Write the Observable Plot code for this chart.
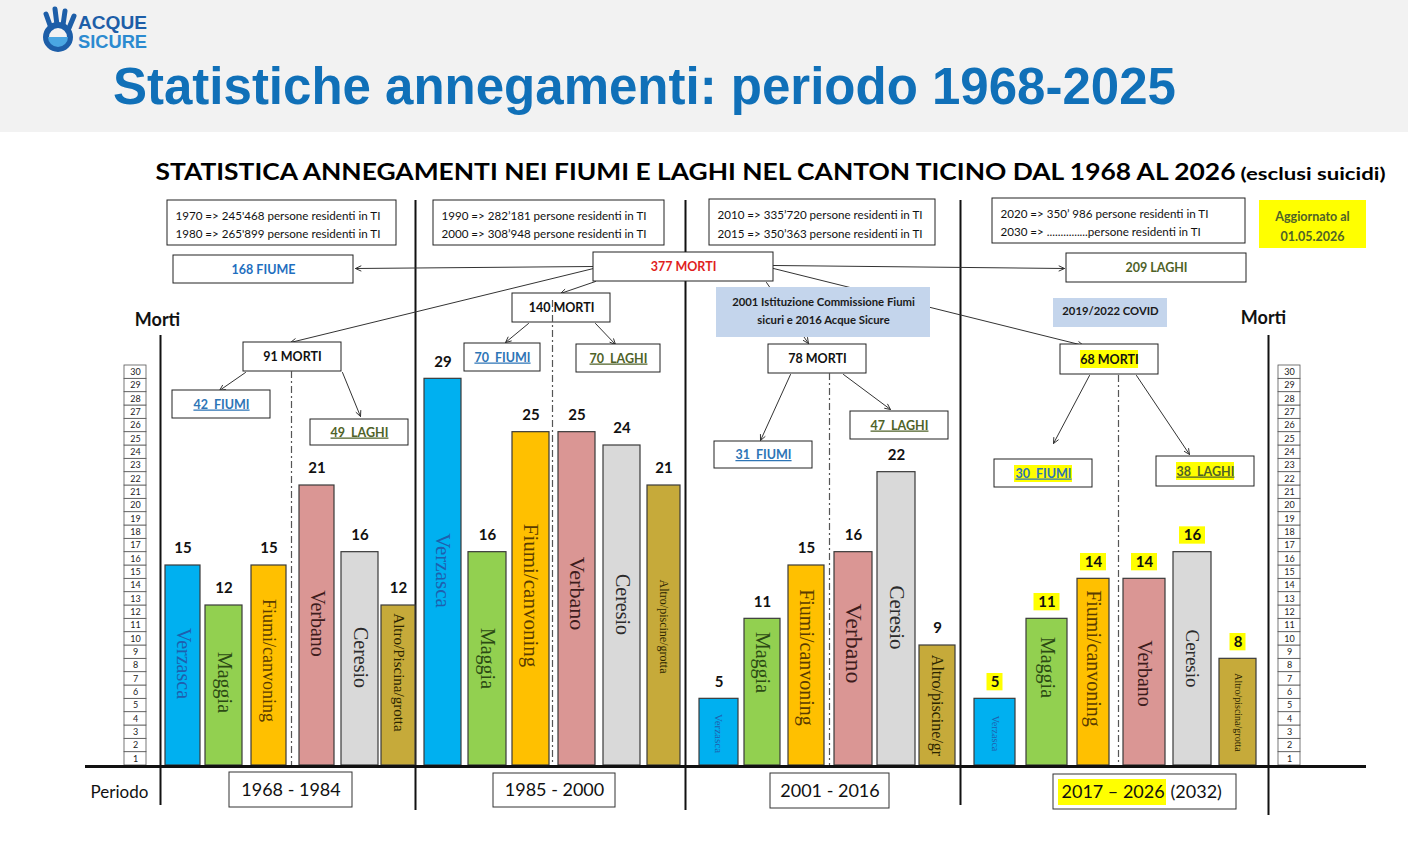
<!DOCTYPE html>
<html><head><meta charset="utf-8">
<script src="https://cdn.jsdelivr.net/npm/d3@7"></script>
<script src="https://cdn.jsdelivr.net/npm/@observablehq/plot@0.6"></script>
<style>
body{margin:0;background:#fff;width:1408px;height:858px;overflow:hidden;font-family:"Liberation Sans",Arial,sans-serif}
#header{position:relative;height:132px;background:#f2f2f2}
#logo{position:absolute;left:38px;top:6px}
#title{position:absolute;left:113px;top:61px;font:bold 51px/51px "Liberation Sans",Arial,sans-serif;color:#1070b8;white-space:nowrap}
#chart svg{display:block}
</style></head>
<body>
<div id="header">
  <svg id="logo" width="120" height="48" viewBox="0 0 120 48">
    <circle cx="20" cy="31" r="12" fill="none" stroke="#1d5ea8" stroke-width="6"/>
    <path d="M10 31 a10 10 0 0 0 20 0 z" fill="#4aa6e2"/>
    <path d="M13 22 L8 8" stroke="#1d5ea8" stroke-width="5" stroke-linecap="round"/>
    <path d="M19 19 L17 3" stroke="#1d5ea8" stroke-width="5" stroke-linecap="round"/>
    <path d="M25 19 L27 5" stroke="#1d5ea8" stroke-width="5" stroke-linecap="round"/>
    <path d="M31 22 L36 10" stroke="#1d5ea8" stroke-width="5" stroke-linecap="round"/>
    <text x="40" y="23" font-family="Liberation Sans" font-weight="bold" font-size="19" fill="#1d5ea8" textLength="69" lengthAdjust="spacingAndGlyphs">ACQUE</text>
    <text x="40" y="42" font-family="Liberation Sans" font-weight="bold" font-size="19" fill="#2b8ad0" textLength="69" lengthAdjust="spacingAndGlyphs">SICURE</text>
  </svg>
  <div id="title">Statistiche annegamenti: periodo 1968-2025</div>
</div>
<div id="chart"></div>
<script>
// ---------------- DATA ----------------
const periods = ["1968 - 1984", "1985 - 2000", "2001 - 2016", "2017 – 2026"];
const categories = ["Verzasca", "Maggia", "Fiumi/canvoning", "Verbano", "Ceresio", "Altro"];
const deaths1968 = [15, 12, 15, 21, 16, 12];
const deaths1985 = [29, 16, 25, 25, 24, 21];
const deaths2001 = [5, 11, 15, 16, 22, 9];
const deaths2017 = [5, 11, 14, 14, 16, 8];
const barLabels = [
  ["Verzasca", "Maggia", "Fiumi/canvoning", "Verbano", "Ceresio", "Altro/Piscina/grotta"],
  ["Verzasca", "Maggia", "Fiumi/canvoning", "Verbano", "Ceresio", "Altro/piscine/grotta"],
  ["Verzasca", "Maggia", "Fiumi/canvoning", "Verbano", "Ceresio", "Altro/piscine/gr"],
  ["Verzasca", "Maggia", "Fiumi/canvoning", "Verbano", "Ceresio", "Altro/piscina/grotta"]
];
const scaleTicks = [1,2,3,4,5,6,7,8,9,10,11,12,13,14,15,16,17,18,19,20,21,22,23,24,25,26,27,28,29,30];
const population = [
  "1970 => 245'468 persone residenti in TI\n1980 => 265'899 persone residenti in TI",
  "1990 => 282’181 persone residenti in TI\n2000 => 308’948 persone residenti in TI",
  "2010 => 335’720 persone residenti in TI\n2015 => 350’363 persone residenti in TI",
  "2020 => 350’ 986 persone residenti in TI\n2030 => ...............persone residenti in TI"
];
const totals = {all: "377 MORTI", fiume: "168 FIUME", laghi: "209 LAGHI"};
const groupTotals = ["91 MORTI", "140 MORTI", "78 MORTI", "68 MORTI"];
const groupFiumi = ["42  FIUMI", "70  FIUMI", "31  FIUMI", "30  FIUMI"];
const groupLaghi = ["49  LAGHI", "70  LAGHI", "47  LAGHI", "38  LAGHI"];

// ---------------- LAYOUT / STYLE ----------------
const catFill = ["#00b0f0", "#92d050", "#ffc000", "#da9694", "#d9d9d9", "#c6aa3a"];
const catText = ["#1f5fae", "#2c4a14", "#5a3c00", "#3d1c1c", "#2b2b2b", "#2a2400"];
const L = {
  barLeft: [[165,205,251,299,341,381],[424,468,512,558,603,647],[699,744,788,834,877,919],[974,1026,1077,1123,1173,1219]],
  barWidth: [[35,37,35,35,37,34],[37,38,37,37,37,33],[39,36,36,38,38,36],[41,41,32,42,38,37]],
  labelY: [[663,682,660,623,657,672],[570,658,595,593,604,626],[733,662,657,643,617,705],[733,667,658,673,658,712]],
  labelSize: [[20,20,18,20,20,15],[21,20,21,22,20,12],[11,20,20,24,21,16],[10,20,20,20,19,10]],
  popBox: [[167,396,200,245],[433,664,200,245],[709,935,199,245],[992,1245,198,243]],
  groupBox: [[243,341,342,371],[512,610,293,322],[768,866,344,373],[1060,1158,344,374]],
  fiumiBox: [[172,270,390,418],[464,540,343,371],[714,812,441,468],[994,1092,459,487]],
  laghiBox: [[310,408,419,445],[576,660,344,372],[850,948,411,439],[1156,1254,456,486]],
  periodBox: [[229,352,772,807],[493,615,773,807],[770,889,773,808],[1053,1236,774,809]],
  dashX: [[291,371],[552,300],[829,373],[1118,375]]
};
const U = 400 / 30;          // pixels per death
const Y = py => (765 - py) / U; // page pixel -> value units

const series = [deaths1968, deaths1985, deaths2001, deaths2017];
const bars = [];
series.forEach((vals, g) => vals.forEach((v, i) => bars.push({
  g, i, v, cat: categories[i], label: barLabels[g][i],
  x1: L.barLeft[g][i], x2: L.barLeft[g][i] + L.barWidth[g][i],
  ly: L.labelY[g][i], ls: L.labelSize[g][i]
})));

const box = (arr) => arr.map(b => ({x1: b[0], x2: b[1], y1: b[2], y2: b[3]}));
const rectPx = (data, opts) => Plot.rect(data, {x1: "x1", x2: "x2", y1: d => Y(d.y1), y2: d => Y(d.y2), ...opts});
const txt = (data, opts) => Plot.text(data, {x: "x", y: d => Y(d.y), text: "t", fontFamily: "Lato", ...opts});
const sans = "Lato";

const marks = [];
// chart title
marks.push(txt([{x: 155, y: 172, t: "STATISTICA ANNEGAMENTI NEI FIUMI E LAGHI NEL CANTON TICINO DAL 1968 AL 2026"}],
  {textAnchor: "start", fontWeight: "bold", fontSize: 23, fill: "#000"}));
marks.push(txt([{x: 1240, y: 174, t: "(esclusi suicidi)"}], {textAnchor: "start", fontWeight: "bold", fontSize: 17, fill: "#000"}));

// vertical separators
const seps = [{x: 160, a: 335, b: 805}, {x: 415, a: 200, b: 810}, {x: 685, a: 200, b: 810}, {x: 960, a: 200, b: 805}, {x: 1268, a: 335, b: 815}];
marks.push(Plot.ruleX(seps, {x: "x", y1: d => Y(d.a), y2: d => Y(d.b), stroke: "#111", strokeWidth: 2}));

// population boxes
marks.push(rectPx(box(L.popBox), {fill: "white", stroke: "#222", strokeWidth: 1}));
marks.push(txt(L.popBox.map((b, k) => ({x: b[0] + 8, y: (b[2] + b[3]) / 2, t: population[k]})),
  {textAnchor: "start", fontSize: 11.6, lineHeight: 1.62, fill: "#111"}));
// updated box
marks.push(rectPx([{x1: 1259, x2: 1366, y1: 200, y2: 248}], {fill: "#ffff00"}));
marks.push(txt([{x: 1312, y: 224, t: "Aggiornato al\n01.05.2026"}], {fontSize: 12.5, fontWeight: "bold", lineHeight: 1.6, fill: "#4f6228"}));

// arrows
const arrows = [
  [593,266,355,268],[593,268,290,342],[595,281,560,293],[773,265,1064,268],[773,268,1083,345],[766,282,808,343],
  [528,323,505,342],[595,323,615,344],[245,372,219,390],[342,372,360,416],
  [790,374,760,440],[843,374,890,409],[1089,375,1053,443],[1136,375,1189,454]
].map(a => ({x1: a[0], y1: a[1], x2: a[2], y2: a[3]}));
marks.push(Plot.arrow(arrows, {x1: "x1", y1: d => Y(d.y1), x2: "x2", y2: d => Y(d.y2), stroke: "#333", strokeWidth: 1, headLength: 9, headAngle: 50}));

// blue info boxes
marks.push(rectPx([{x1: 716, x2: 930, y1: 287, y2: 337}, {x1: 1053, x2: 1167, y1: 298, y2: 327}], {fill: "#c4d5ec"}));
marks.push(txt([{x: 823, y: 309, t: "2001 Istituzione Commissione Fiumi\nsicuri e 2016 Acque Sicure"}], {fontSize: 11.3, fontWeight: "bold", lineHeight: 1.6, fill: "#1a1a1a"}));
marks.push(txt([{x: 1110, y: 311, t: "2019/2022 COVID"}], {fontSize: 11.3, fontWeight: "bold", fill: "#1a1a1a"}));

// totals boxes
marks.push(rectPx(box([[173,353,255,283],[593,773,252,281],[1066,1246,253,282]]), {fill: "white", stroke: "#222", strokeWidth: 1}));
marks.push(txt([{x: 263, y: 269, t: totals.fiume}], {fontSize: 12.5, fontWeight: "bold", fill: "#1f6fc0"}));
marks.push(txt([{x: 683, y: 266, t: totals.all}], {fontSize: 12.5, fontWeight: "bold", fill: "#e01e1e"}));
marks.push(txt([{x: 1156, y: 267, t: totals.laghi}], {fontSize: 12.5, fontWeight: "bold", fill: "#4f6228"}));

// group boxes
marks.push(rectPx(box(L.groupBox.concat(L.fiumiBox, L.laghiBox)), {fill: "white", stroke: "#222", strokeWidth: 1}));
// yellow highlights (last period)
const hl = [[1080,1138,350,368],[1014,1072,465,482],[1176,1234,462,480]];
marks.push(rectPx(box(hl), {fill: "#ffff00"}));
marks.push(txt(L.groupBox.map((b, k) => ({x: (b[0] + b[1]) / 2, y: (b[2] + b[3]) / 2, t: groupTotals[k]})), {fontSize: 12.5, fontWeight: "bold", fill: "#111"}));
marks.push(txt(L.fiumiBox.map((b, k) => ({x: (b[0] + b[1]) / 2, y: (b[2] + b[3]) / 2, t: groupFiumi[k]})), {fontSize: 12.5, fontWeight: "bold", fill: "#2e75b6"}));
marks.push(txt(L.laghiBox.map((b, k) => ({x: (b[0] + b[1]) / 2, y: (b[2] + b[3]) / 2, t: groupLaghi[k]})), {fontSize: 12.5, fontWeight: "bold", fill: "#4f6228"}));

// dash-dot split lines
marks.push(Plot.ruleX(L.dashX.map(d => ({x: d[0], a: d[1]})), {x: "x", y1: d => Y(d.a), y2: 0, stroke: "#555", strokeWidth: 1.2, strokeDasharray: "7,3,2,3"}));

// Morti / Periodo labels
marks.push(txt([{x: 157, y: 320, t: "Morti"}, {x: 1263, y: 318, t: "Morti"}], {fontSize: 18, fontWeight: "bold", fill: "#111"}));
marks.push(txt([{x: 119, y: 792, t: "Periodo"}], {fontSize: 17, fill: "#111"}));

// scale ladders
const ladders = [{x1: 124, x2: 146}, {x1: 1278, x2: 1300}];
ladders.forEach(l => {
  marks.push(Plot.rect(scaleTicks, {x1: l.x1, x2: l.x2, y1: d => d - 1, y2: d => d, fill: "white", stroke: "#555", strokeWidth: 0.8}));
  marks.push(Plot.text(scaleTicks, {x: (l.x1 + l.x2) / 2, y: d => d - 0.5, text: d => String(d), fontSize: 9, fontFamily: sans, fill: "#222"}));
});

// bars
marks.push(Plot.rect(bars, {x1: "x1", x2: "x2", y1: 0, y2: "v", fill: d => catFill[d.i], stroke: "#3a3a3a", strokeWidth: 1.2}));
// highlights for last period value labels
marks.push(Plot.rect(bars.filter(d => d.g === 3), {
  x1: d => (d.x1 + d.x2) / 2 - (String(d.v).length * 5 + 3), x2: d => (d.x1 + d.x2) / 2 + (String(d.v).length * 5 + 3),
  y1: d => d.v + 0.6, y2: d => d.v + 1.9, fill: "#ffff00"}));
marks.push(Plot.text(bars, {x: d => (d.x1 + d.x2) / 2, y: "v", dy: -17, text: d => String(d.v), fontSize: 15, fontWeight: "bold", fontFamily: sans, fill: "#111"}));
// rotated category labels
bars.forEach(b => {
  marks.push(Plot.text([b], {x: d => (d.x1 + d.x2) / 2, y: d => Y(d.ly), text: "label", rotate: 90, fontSize: b.ls, fontFamily: "Liberation Serif", fill: catText[b.i]}));
});

// base line
marks.push(Plot.ruleY([Y(766)], {x1: 85, x2: 1366, stroke: "#111", strokeWidth: 3}));

// period boxes
marks.push(rectPx(box(L.periodBox), {fill: "white", stroke: "#333", strokeWidth: 1}));
marks.push(rectPx([{x1: 1058, x2: 1166, y1: 779, y2: 805}], {fill: "#ffff00"}));
marks.push(txt(L.periodBox.slice(0, 3).map((b, k) => ({x: (b[0] + b[1]) / 2, y: (b[2] + b[3]) / 2, t: periods[k]})), {fontSize: 18, fill: "#111"}));
marks.push(txt([{x: 1061, y: 792, t: periods[3]}], {textAnchor: "start", fontSize: 18, fill: "#111"}));
marks.push(txt([{x: 1170, y: 792, t: "(2032)"}], {textAnchor: "start", fontSize: 18, fill: "#111"}));

const chart = Plot.plot({
  width: 1408, height: 726,
  marginTop: 0, marginRight: 0, marginBottom: 0, marginLeft: 0,
  x: {domain: [0, 1408], range: [0, 1408], axis: null},
  y: {domain: [Y(858), Y(132)], range: [726, 0], axis: null},
  style: {background: "white", fontFamily: sans, fontSize: "12px"},
  marks
});
document.getElementById("chart").appendChild(chart);

// post-process: fit title widths and spell-check style underlines
const underlined = new Set(groupFiumi.concat(groupLaghi).map(s => s.replace(/\s+/g, " ")));
d3.select(chart).selectAll("text").each(function () {
  const t = this.textContent.replace(/\s+/g, " ");
  if (t.startsWith("STATISTICA")) { this.setAttribute("textLength", 1080); this.setAttribute("lengthAdjust", "spacingAndGlyphs"); }
  if (t === "(esclusi suicidi)") { this.setAttribute("textLength", 145); this.setAttribute("lengthAdjust", "spacingAndGlyphs"); }
  if (underlined.has(t)) {
    this.style.textDecoration = "underline";
    this.style.textDecorationColor = "#7a93e0";
    this.style.textDecorationStyle = "wavy";
  }
});
</script>
</body></html>
